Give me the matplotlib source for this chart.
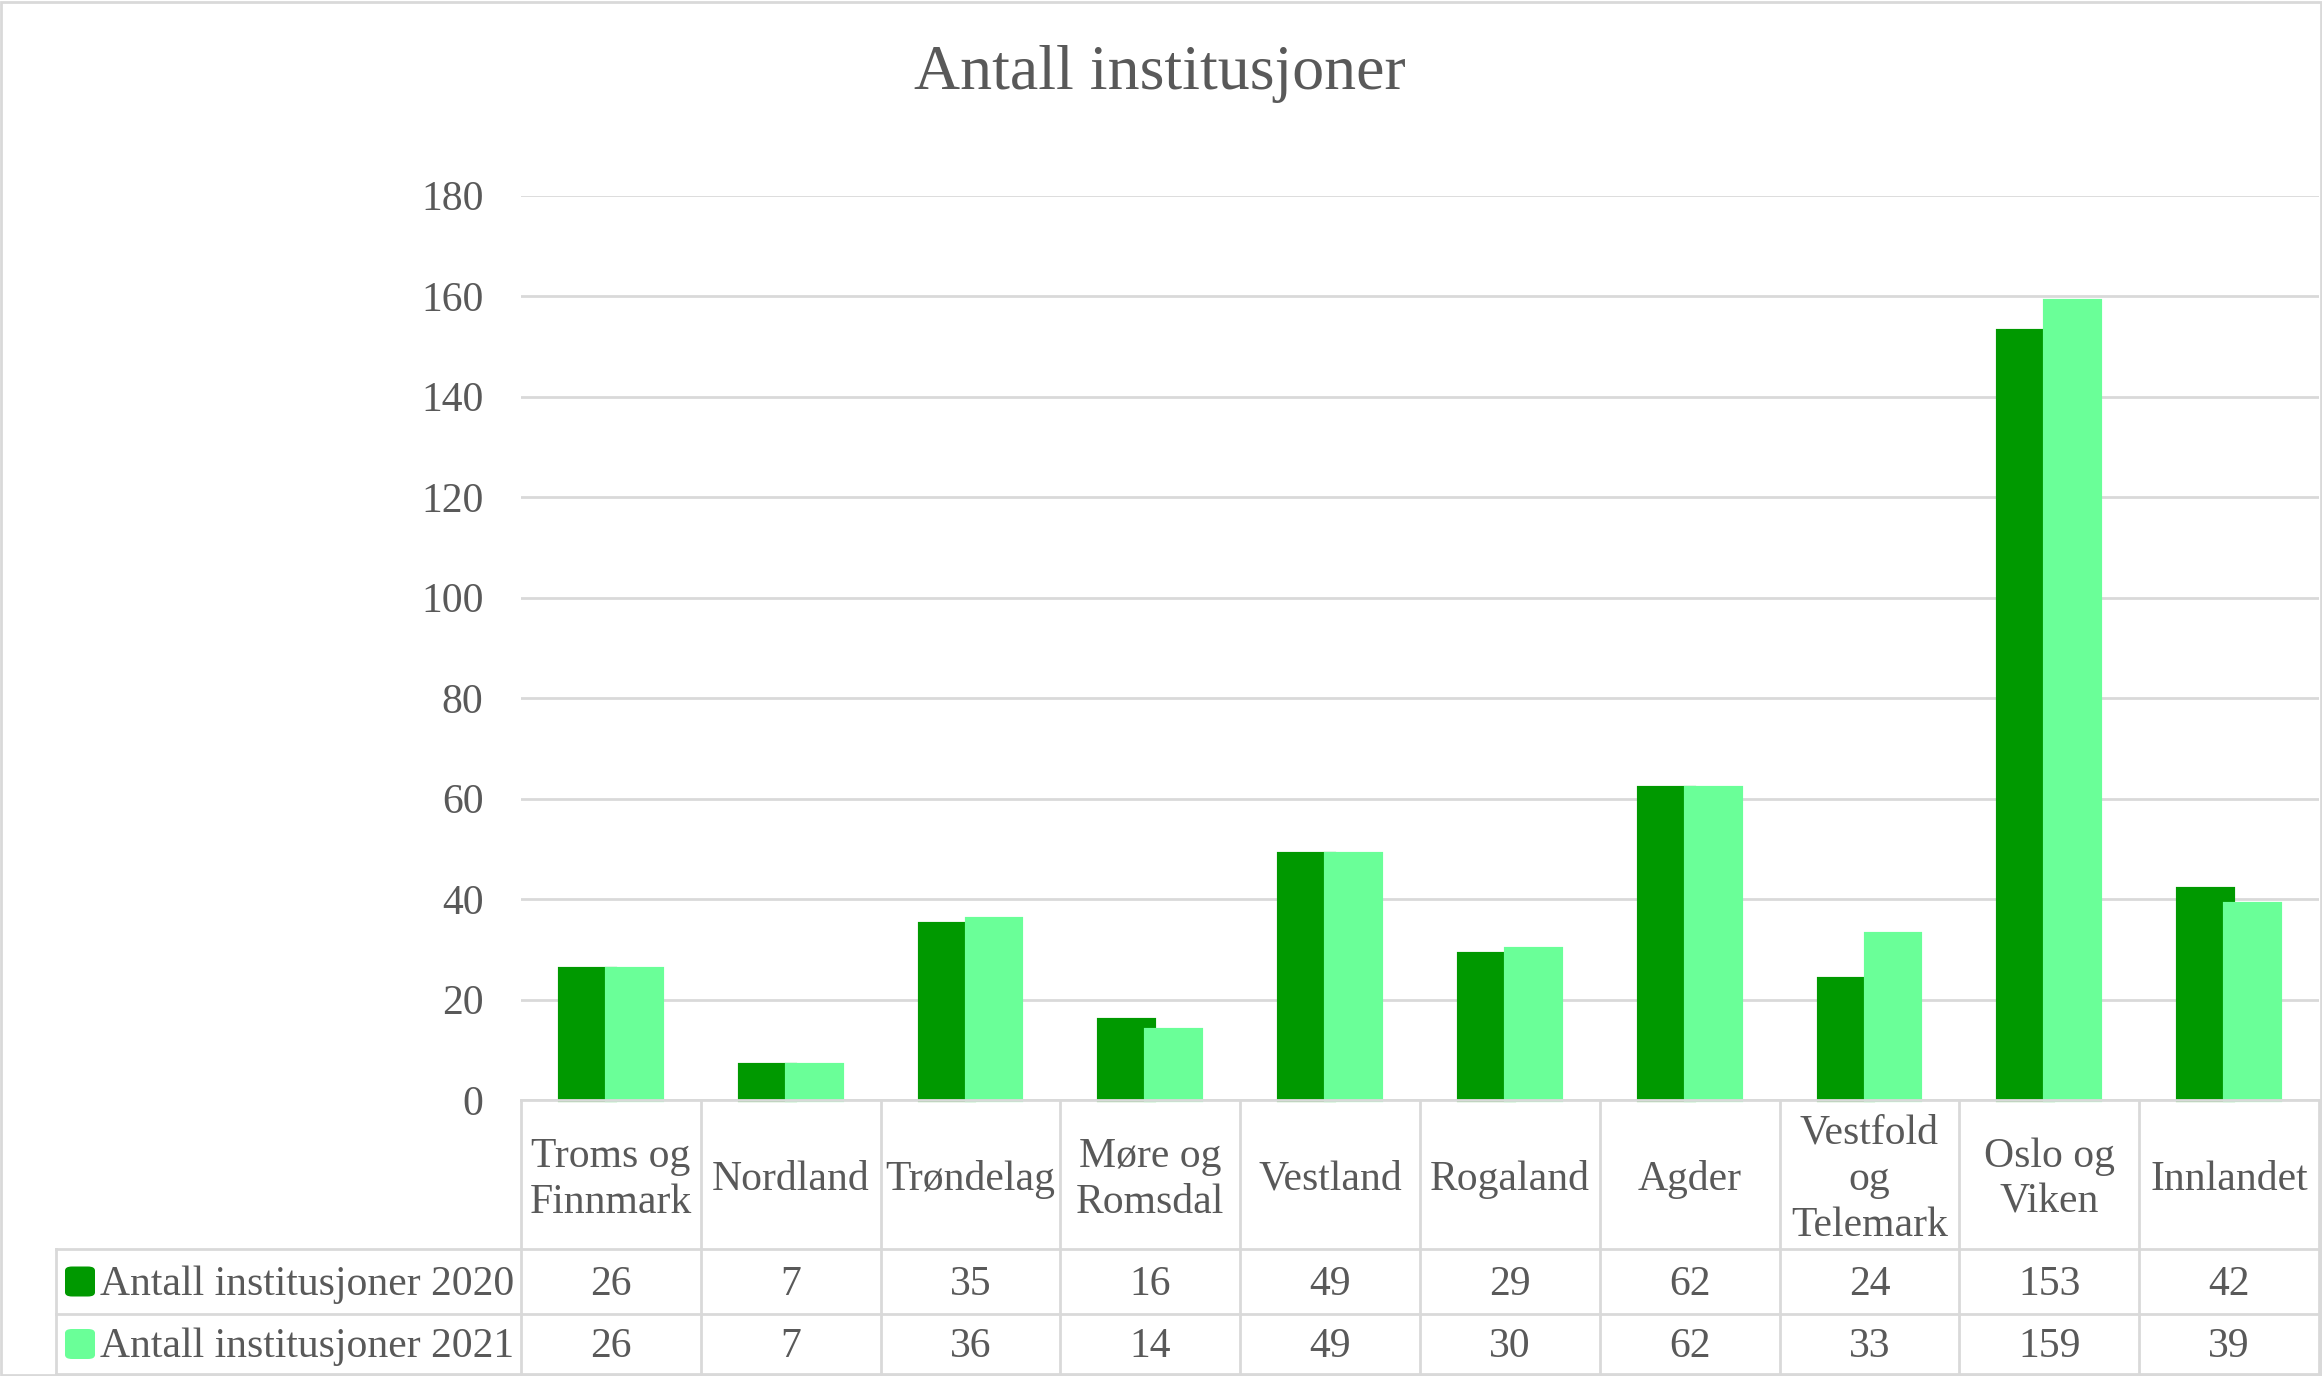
import matplotlib
matplotlib.use('Agg')
import matplotlib.pyplot as plt
from matplotlib.patches import Rectangle, FancyBboxPatch
import numpy as np

plt.rcParams['font.family'] = ['Liberation Serif', 'DejaVu Serif']

regions = ['Troms og\nFinnmark', 'Nordland', 'Trøndelag', 'Møre og\nRomsdal', 'Vestland',
           'Rogaland', 'Agder', 'Vestfold\nog\nTelemark', 'Oslo og\nViken', 'Innlandet']
inst_2020 = [26, 7, 35, 16, 49, 29, 62, 24, 153, 42]
inst_2021 = [26, 7, 36, 14, 49, 30, 62, 33, 159, 39]
series_names = ['Antall institusjoner 2020', 'Antall institusjoner 2021']
yticks = [0, 20, 40, 60, 80, 100, 120, 140, 160, 180]

c2020 = '#009900'
c2021 = '#6AFF98'
txt = '#595959'
grid = '#D9D9D9'
fs = 30

W, H = 2322, 1376
fig = plt.figure(figsize=(W / 100, H / 100), dpi=100)

def fx(px):
    return px / W

def fy(py):
    return 1 - py / H

left, right = 521, 2319
top, zero = 195.5, 1100
row1, row2, bottom = 1249, 1314, 1374
lab_left = 56

ax = fig.add_axes([fx(left), fy(zero), fx(right - left), (zero - top) / H])
n = len(regions)
x = np.arange(n) + 0.5
bw = 0.305
ax.bar(x - 0.131, inst_2020, bw, color=c2020, edgecolor=c2020, linewidth=3, zorder=3, clip_on=False)
ax.bar(x + 0.131, inst_2021, bw, color=c2021, edgecolor=c2021, linewidth=3, zorder=4, clip_on=False)
ax.set_xlim(0, n)
ax.set_ylim(0, 180)
ax.set_yticks(yticks)
ax.set_yticklabels([str(t) for t in yticks], fontsize=fs, color=txt)
ax.tick_params(axis='y', length=0, pad=27)
ax.set_xticks([])
for s in ax.spines.values():
    s.set_visible(False)
ax.yaxis.grid(True, color=grid, linewidth=2)
ax.set_axisbelow(True)

# title
fig.text(fx(1160), fy(74), 'Antall institusjoner', ha='center', va='center',
         fontsize=46, color=txt)

# data table
lw = 2
def hline(y, x0, x1):
    fig.add_artist(plt.Line2D([fx(x0), fx(x1)], [fy(y), fy(y)], color=grid, lw=lw, zorder=5))

def vline(xp, y0, y1):
    fig.add_artist(plt.Line2D([fx(xp), fx(xp)], [fy(y0), fy(y1)], color=grid, lw=lw, zorder=5))

hline(zero, left, right)
hline(row1, lab_left, right)
hline(row2, lab_left, right)
hline(bottom, lab_left, right)
vline(lab_left, row1, bottom)
cw = (right - left) / n
for i in range(n + 1):
    vline(left + i * cw, zero, bottom)

for i in range(n):
    cx = left + (i + 0.5) * cw
    fig.text(fx(cx), fy((zero + row1) / 2 + 5), regions[i], ha='center', va='center',
             fontsize=fs, color=txt, linespacing=1.25)
    fig.text(fx(cx), fy((row1 + row2) / 2 + 3), str(inst_2020[i]), ha='center',
             va='center', fontsize=fs, color=txt)
    fig.text(fx(cx), fy((row2 + bottom) / 2 + 3), str(inst_2021[i]), ha='center',
             va='center', fontsize=fs, color=txt)

for j, (name, col) in enumerate(zip(series_names, [c2020, c2021])):
    yc = (row1 + row2) / 2 if j == 0 else (row2 + bottom) / 2
    fig.add_artist(FancyBboxPatch((fx(65), fy(yc + 15)), fx(30), 30 / H,
                                  boxstyle='round,pad=0,rounding_size=0.003',
                                  transform=fig.transFigure, facecolor=col, edgecolor='none'))
    fig.text(fx(100), fy(yc + 3), name, ha='left', va='center', fontsize=fs, color=txt)

# outer border
fig.add_artist(Rectangle((0.0005, 0.0008), 0.999, 0.998, transform=fig.transFigure,
                         fill=False, edgecolor=grid, lw=2))

fig.savefig('out.png', dpi=100, facecolor='white')
